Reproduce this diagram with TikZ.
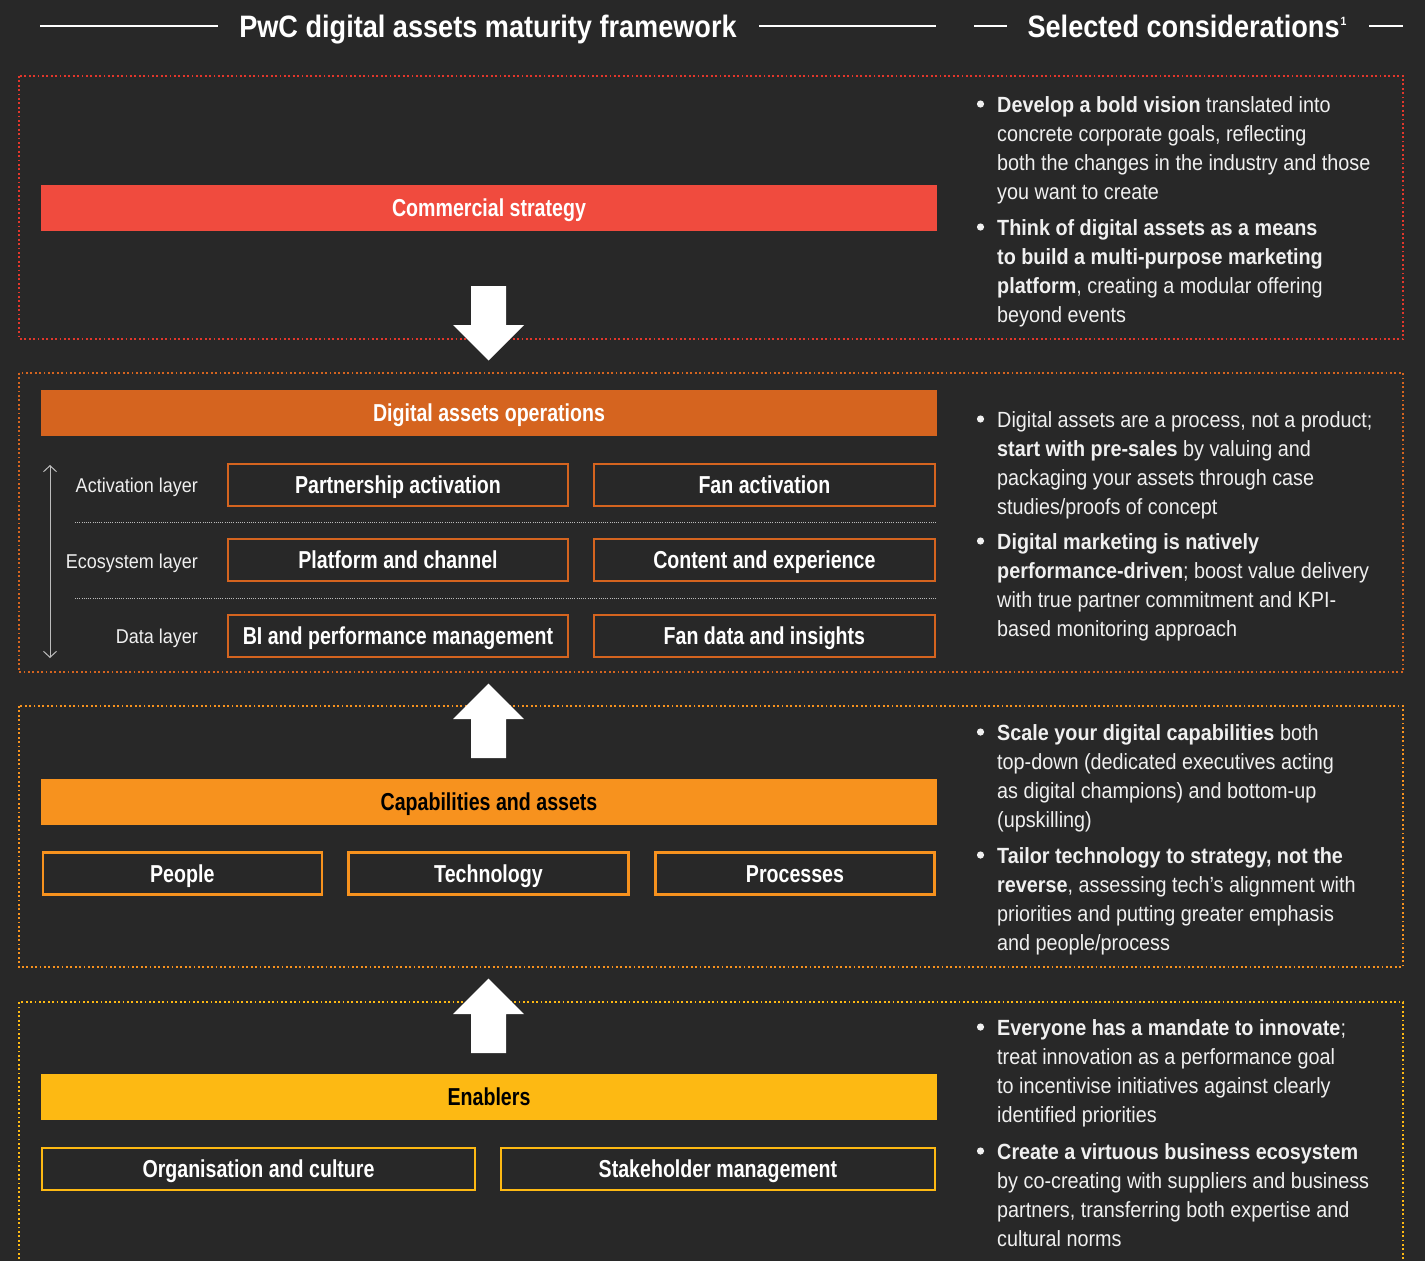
\documentclass[tikz,border=0pt]{standalone}
\usepackage{fontspec}
\setmainfont{Liberation Sans}[FakeStretch=0.9]
\newfontfamily\condfont{Liberation Sans}[FakeStretch=0.8]
\newfontfamily\titlefont{Liberation Sans}[FakeStretch=0.875]
\usetikzlibrary{arrows.meta}
\definecolor{bgc}{HTML}{282828}
\definecolor{redframe}{HTML}{E3372B}
\definecolor{redbar}{HTML}{F04B3E}
\definecolor{dorange}{HTML}{D5641F}
\definecolor{lorange}{HTML}{F7921E}
\definecolor{yel}{HTML}{FDB913}
\definecolor{txt}{HTML}{F0F0F0}
\definecolor{sepc}{HTML}{BDBDBD}
\tikzset{
  frame/.style={line width=1.8pt, dash pattern=on 1.8pt off 2.6pt},
  bar/.style={minimum width=896pt, minimum height=46pt, inner sep=0pt,
    font=\condfont\bfseries\fontsize{24.5}{28}\selectfont, text height=17.6pt, text depth=0pt},
  obox/.style={draw, line width=2.4pt, minimum height=42pt, inner sep=0pt, text=white,
    font=\condfont\bfseries\fontsize{24.5}{28}\selectfont, text height=17.6pt, text depth=0pt},
  layerlab/.style={anchor=base east, inner sep=0pt, text=txt, font=\fontsize{20}{24}\selectfont},
  cons/.style={anchor=north west, align=left, inner sep=0pt, text=txt, font=\fontsize{22}{29}\selectfont},
  bul/.style={circle, fill=txt, inner sep=0pt, minimum size=7.2pt},
  ttl/.style={inner sep=0pt, text=white, font=\titlefont\bfseries\fontsize{31}{35}\selectfont, text height=22.2pt, text depth=0pt},
  tline/.style={white, line width=2pt},
  sepline/.style={sepc, line width=0.8pt, dash pattern=on 1pt off 1.2pt},
  blockarrow/.style={fill=white}
}
\newcommand{\fs}{\rule{0pt}{17pt}}
\begin{document}
\begin{tikzpicture}[x=1pt,y=-1pt]
\useasboundingbox[fill=bgc] (0,0) rectangle (1425,1261);

% titles
\node[ttl] (t1) at (488,26) {PwC digital assets maturity framework};
\node[ttl] (t2) at (1187,26) {Selected considerations\kern1pt\raisebox{12pt}{\fontsize{12}{14}\selectfont 1}};
\coordinate (l1a) at (40,26); \coordinate (l1b) at (218,26);
\coordinate (l2a) at (759,26); \coordinate (l2b) at (936,26);
\coordinate (l3a) at (974,26); \coordinate (l3b) at (1007,26);
\coordinate (l4a) at (1369,26); \coordinate (l4b) at (1403,26);
\draw[tline] (l1a) -- (l1b);
\draw[tline] (l2a) -- (l2b);
\draw[tline] (l3a) -- (l3b);
\draw[tline] (l4a) -- (l4b);

% frames
\draw[frame, redframe] (19,76) rectangle (1403,339);
\draw[frame, dorange] (19,373) rectangle (1403,672);
\draw[frame, lorange] (19,706) rectangle (1403,967);
\draw[frame, yel] (19,1290) -- (19,1002) -- (1403,1002) -- (1403,1290);

% bars
\node[bar, fill=redbar, text=white] (cs) at (489,208) {Commercial strategy};
\node[bar, fill=dorange, text=white] (dao) at (489,413) {Digital assets operations};
\node[bar, fill=lorange, text=black] (caa) at (489,802) {Capabilities and assets};
\node[bar, fill=yel, text=black] (en) at (489,1097) {Enablers};

% block arrows
\coordinate (a1) at (488.5,286);
\fill[blockarrow] (a1) ++(-17.5,0) -- ++(35,0) -- ++(0,39) -- ++(18,0) -- ++(-35.5,35.5) -- ++(-35.5,-35.5) -- ++(18,0) -- cycle;
\coordinate (a2) at (488.5,758);
\fill[blockarrow] (a2) ++(-17.5,0) -- ++(35,0) -- ++(0,-39) -- ++(18,0) -- ++(-35.5,-35.5) -- ++(-35.5,35.5) -- ++(18,0) -- cycle;
\coordinate (a3) at (488.5,1053);
\fill[blockarrow] (a3) ++(-17.5,0) -- ++(35,0) -- ++(0,-39) -- ++(18,0) -- ++(-35.5,-35.5) -- ++(-35.5,35.5) -- ++(18,0) -- cycle;

% operations layers
\coordinate (dtop) at (50,465);
\coordinate (dbot) at (50,658);
\draw[sepc, line width=1pt, {Straight Barb[length=6pt,width=13pt]}-{Straight Barb[length=6pt,width=13pt]}] (dtop) -- (dbot);
\node[layerlab] (lact) at (198,492) {Activation layer};
\node[layerlab] (leco) at (198,568) {Ecosystem layer};
\node[layerlab] (ldat) at (198,643.5) {Data layer};
\coordinate (s1a) at (75,522); \coordinate (s1b) at (937,522);
\coordinate (s2a) at (75,598); \coordinate (s2b) at (937,598);
\draw[sepline] (s1a) -- (s1b);
\draw[sepline] (s2a) -- (s2b);

\node[obox, draw=dorange, minimum width=340.5pt] (pa) at (398,484.7) {Partnership activation};
\node[obox, draw=dorange, minimum width=341pt] (fa) at (764.4,484.7) {Fan activation};
\node[obox, draw=dorange, minimum width=340.5pt] (pc) at (398,560) {Platform and channel};
\node[obox, draw=dorange, minimum width=341pt] (ce) at (764.4,560) {Content and experience};
\node[obox, draw=dorange, minimum width=340.5pt] (bi) at (398,636) {BI and performance management};
\node[obox, draw=dorange, minimum width=341pt] (fd) at (764.4,636) {Fan data and insights};

% capabilities
\node[obox, draw=lorange, minimum width=279pt] (pe) at (182.3,873.3) {People};
\node[obox, draw=lorange, minimum width=280pt] (te) at (488.5,873.3) {Technology};
\node[obox, draw=lorange, minimum width=279pt] (pr) at (795,873.3) {Processes};

% enablers
\node[obox, draw=yel, minimum width=432.5pt] (oc) at (258.5,1169) {Organisation and culture};
\node[obox, draw=yel, minimum width=433.5pt] (sm) at (718,1169) {Stakeholder management};

% considerations
\node[bul] (d1) at (980.5,104) {};
\node[cons] (c1) at (997,95) {\fs\textbf{Develop a bold vision} translated into\\concrete corporate goals, reflecting\\both the changes in the industry and those\\you want to create};
\node[bul] (d2) at (980.5,227) {};
\node[cons] (c2) at (997,218) {\fs\textbf{Think of digital assets as a means}\\\textbf{to build a multi-purpose marketing}\\\textbf{platform}, creating a modular offering\\beyond events};

\node[bul] (d3) at (980.5,419) {};
\node[cons] (c3) at (997,410) {\fs Digital assets are a process, not a product;\\\textbf{start with pre-sales} by valuing and\\packaging your assets through case\\studies/proofs of concept};
\node[bul] (d4) at (980.5,541) {};
\node[cons] (c4) at (997,532) {\fs\textbf{Digital marketing is natively}\\\textbf{performance-driven}; boost value delivery\\with true partner commitment and KPI-\\based monitoring approach};

\node[bul] (d5) at (980.5,732) {};
\node[cons] (c5) at (997,723) {\fs\textbf{Scale your digital capabilities} both\\top-down (dedicated executives acting\\as digital champions) and bottom-up\\(upskilling)};
\node[bul] (d6) at (980.5,855) {};
\node[cons] (c6) at (997,846) {\fs\textbf{Tailor technology to strategy, not the}\\\textbf{reverse}, assessing tech’s alignment with\\priorities and putting greater emphasis\\and people/process};

\node[bul] (d7) at (980.5,1027) {};
\node[cons] (c7) at (997,1018) {\fs\textbf{Everyone has a mandate to innovate};\\treat innovation as a performance goal\\to incentivise initiatives against clearly\\identified priorities};
\node[bul] (d8) at (980.5,1151) {};
\node[cons] (c8) at (997,1142) {\fs\textbf{Create a virtuous business ecosystem}\\by co-creating with suppliers and business\\partners, transferring both expertise and\\cultural norms};
\end{tikzpicture}
\end{document}
